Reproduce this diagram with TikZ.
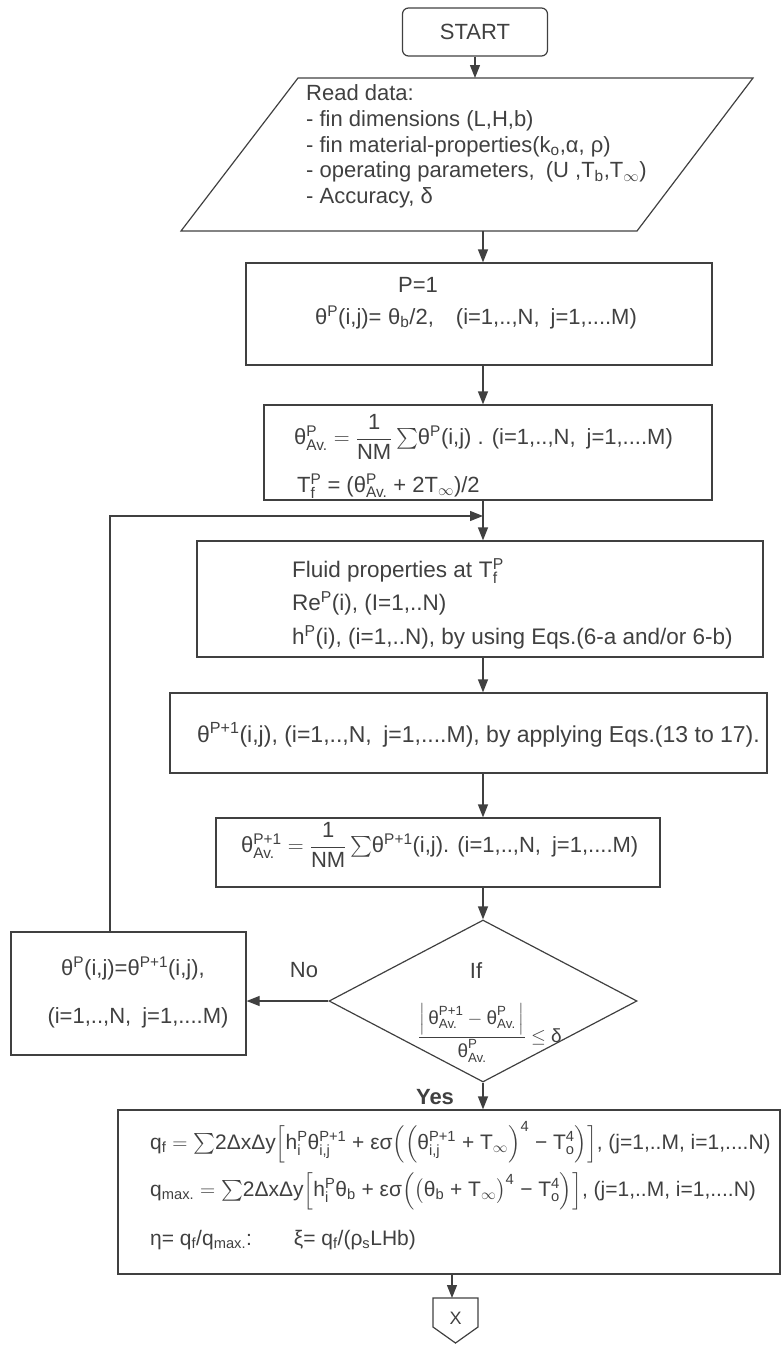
\documentclass[tikz,border=0pt]{standalone}
\usepackage{fix-cm}
\usepackage{amsmath}
\usepackage{fontspec}
\setmainfont{Liberation Sans}
\usetikzlibrary{arrows.meta,shapes.geometric}
\definecolor{ink}{gray}{0.25}
\newcommand{\supsub}[2]{$^{\text{#1}}_{\text{#2}}$}
\newcommand{\Tinf}{T$_{\infty}$}

\begin{document}
\begin{tikzpicture}[x=1pt,y=-1pt,
  box/.style={draw=ink,line width=1.2pt,rectangle,inner sep=0pt},
  txt/.style={text=ink,inner sep=0pt,align=left,font=\fontsize{22}{26}\selectfont},
  small/.style={txt,font=\fontsize{19}{22}\selectfont},
  res/.style={txt,font=\fontsize{21}{24}\selectfont},
  arr/.style={draw=ink,line width=1.2pt,-{Triangle[length=13pt,width=10pt]}}]
  \useasboundingbox (0,0) rectangle (782,1345);
  \coordinate (ax) at (483,0);

  % start and input
  \node[box,rounded corners=6pt,minimum width=145pt,minimum height=48pt,txt] (start) at (475,32) {START};
  \coordinate (rtl) at (298,78);
  \coordinate (rtr) at (753,78);
  \coordinate (rbr) at (637,231);
  \coordinate (rbl) at (181,231);
  \draw[ink,line width=1.2pt] (rtl) -- (rtr) -- (rbr) -- (rbl) -- cycle;
  \node[txt,anchor=west,font=\fontsize{22}{25.7}\selectfont] (readtxt) at (306,146.5)
    {Read data:\\
     - fin dimensions (L,H,b)\\
     - fin material-properties(k\textsubscript{o},α, ρ)\\
     - operating parameters,\hspace{0.5em}(U ,T\textsubscript{b},\Tinf)\\
     - Accuracy, δ};

  % initial guess
  \node[box,minimum width=466pt,minimum height=102pt] (init) at (479,314) {};
  \node[txt] (p1) at (418,285) {P=1};
  \node[txt,anchor=west] (th1) at (315,317)
    {θ\textsuperscript{P}(i,j)=\hspace{0.3em}θ\textsubscript{b}/2,\hspace{1em}(i=1,..,N,\hspace{0.5em}j=1,....M)};

  % mean temperature
  \node[box,minimum width=448pt,minimum height=95pt] (avg) at (488,452.5) {};
  \node[txt,anchor=west] (avg1) at (294,437)
    {θ\supsub{P}{Av.} $=\dfrac{\text{1}}{\text{NM}}\sum$θ\textsuperscript{P}(i,j) . (i=1,..,N,\hspace{0.5em}j=1,....M)};
  \node[txt,anchor=west] (avg2) at (297,486)
    {T\supsub{P}{f} = (θ\supsub{P}{Av.} + 2\Tinf)/2};

  % fluid side
  \node[box,minimum width=566pt,minimum height=116pt] (fluid) at (480,599) {};
  \node[txt,anchor=west,font=\fontsize{22.5}{33.5}\selectfont] (fluidtxt) at (292,603.5)
    {Fluid properties at\hspace{0.3em}T\supsub{P}{f}\\
     Re\textsuperscript{P}(i), (I=1,..N)\\
     h\textsuperscript{P}(i), (i=1,..N), by using Eqs.(6-a and/or 6-b)};

  % new field
  \node[box,minimum width=597pt,minimum height=80pt] (temp) at (468.5,733) {};
  \node[txt,anchor=west,font=\fontsize{23}{26}\selectfont] (temptxt) at (197,735)
    {θ\textsuperscript{P+1}(i,j), (i=1,..,N,\hspace{0.5em}j=1,....M), by applying Eqs.(13 to 17).};

  \node[box,minimum width=444pt,minimum height=69pt] (avgn) at (438,852.5) {};
  \node[txt,anchor=west] (avgntxt) at (241,845)
    {θ\supsub{P+1}{Av.} $=\dfrac{\text{1}}{\text{NM}}\sum$θ\textsuperscript{P+1}(i,j). (i=1,..,N,\hspace{0.5em}j=1,....M)};

  % convergence test
  \node[draw=ink,line width=1.2pt,diamond,inner sep=0pt,
        minimum width=308pt,minimum height=162pt] (cond) at (483,1001) {};
  \node[txt] (iftxt) at (476,971) {If};
  \node[small] (crit) at (490,1033)
    {$\dfrac{\left|\,\text{θ}^{\text{P+1}}_{\text{Av.}}-\text{θ}^{\text{P}}_{\text{Av.}}\,\right|}{\text{θ}^{\text{P}}_{\text{Av.}}}\le\text{δ}$};

  \node[box,minimum width=235pt,minimum height=123pt] (upd) at (128.5,993.5) {};
  \node[txt] (upd1) at (133,968) {θ\textsuperscript{P}(i,j)=θ\textsuperscript{P+1}(i,j),};
  \node[txt] (upd2) at (138,1018) {(i=1,..,N,\hspace{0.5em}j=1,....M)};
  \node[txt] (no) at (304,970) {No};
  \node[txt,font=\fontsize{22}{26}\selectfont\bfseries] (yes) at (435,1097) {Yes};

  % results
  \node[box,minimum width=662pt,minimum height=164pt] (fin) at (449,1192) {};
  \node[res,anchor=west] (fin1) at (150,1142)
    {q\textsubscript{f} $=\sum$2ΔxΔy$\Big[$h\supsub{P}{i}θ\supsub{P+1}{i,j} + εσ$\Big(\Big($θ\supsub{P+1}{i,j} + \Tinf$\Big)^{\text{4}}$ − T\supsub{4}{o}$\Big)\Big]$, (j=1,..M, i=1,....N)};
  \node[res,anchor=west] (fin2) at (150,1191)
    {q\textsubscript{max.} $=\sum$2ΔxΔy$\Big[$h\supsub{P}{i}θ\textsubscript{b} + εσ$\Big(\big($θ\textsubscript{b} + \Tinf$\big)^{\text{4}}$ − T\supsub{4}{o}$\Big)\Big]$, (j=1,..M, i=1,....N)};
  \node[res,anchor=west] (fin3) at (150,1240)
    {η= q\textsubscript{f}/q\textsubscript{max.}:\hspace{2em}ξ= q\textsubscript{f}/(ρ\textsubscript{s}LHb)};

  % off-page connector
  \coordinate (xtop) at (452,1298);
  \draw[ink,line width=1.2pt] (433,1298) -- (478,1298) -- (478,1327) -- (455.5,1343) -- (433,1327) -- cycle;
  \node[txt,font=\fontsize{18}{20}\selectfont] (xcon) at (455.5,1318) {X};

  % connectors
  \coordinate (lpx) at (110,516);
  \coordinate (merge) at (483,516);
  \draw[arr] (start.south) -- (start.south |- rtl);
  \draw[arr] (rbl -| ax) -- (init.north -| ax);
  \draw[arr] (init.south -| ax) -- (avg.north -| ax);
  \draw[arr] (avg.south -| ax) -- (fluid.north -| ax);
  \draw[arr] (upd.north -| lpx) -- (lpx) -- (merge);
  \draw[arr] (fluid.south -| ax) -- (temp.north -| ax);
  \draw[arr] (temp.south -| ax) -- (avgn.north -| ax);
  \draw[arr] (avgn.south -| ax) -- (cond.north);
  \draw[arr] (cond.west) -- (upd.east |- cond.west);
  \draw[arr] (cond.south) -- (fin.north -| cond.south);
  \draw[arr] (fin.south -| xtop) -- (xtop);
\end{tikzpicture}
\end{document}
